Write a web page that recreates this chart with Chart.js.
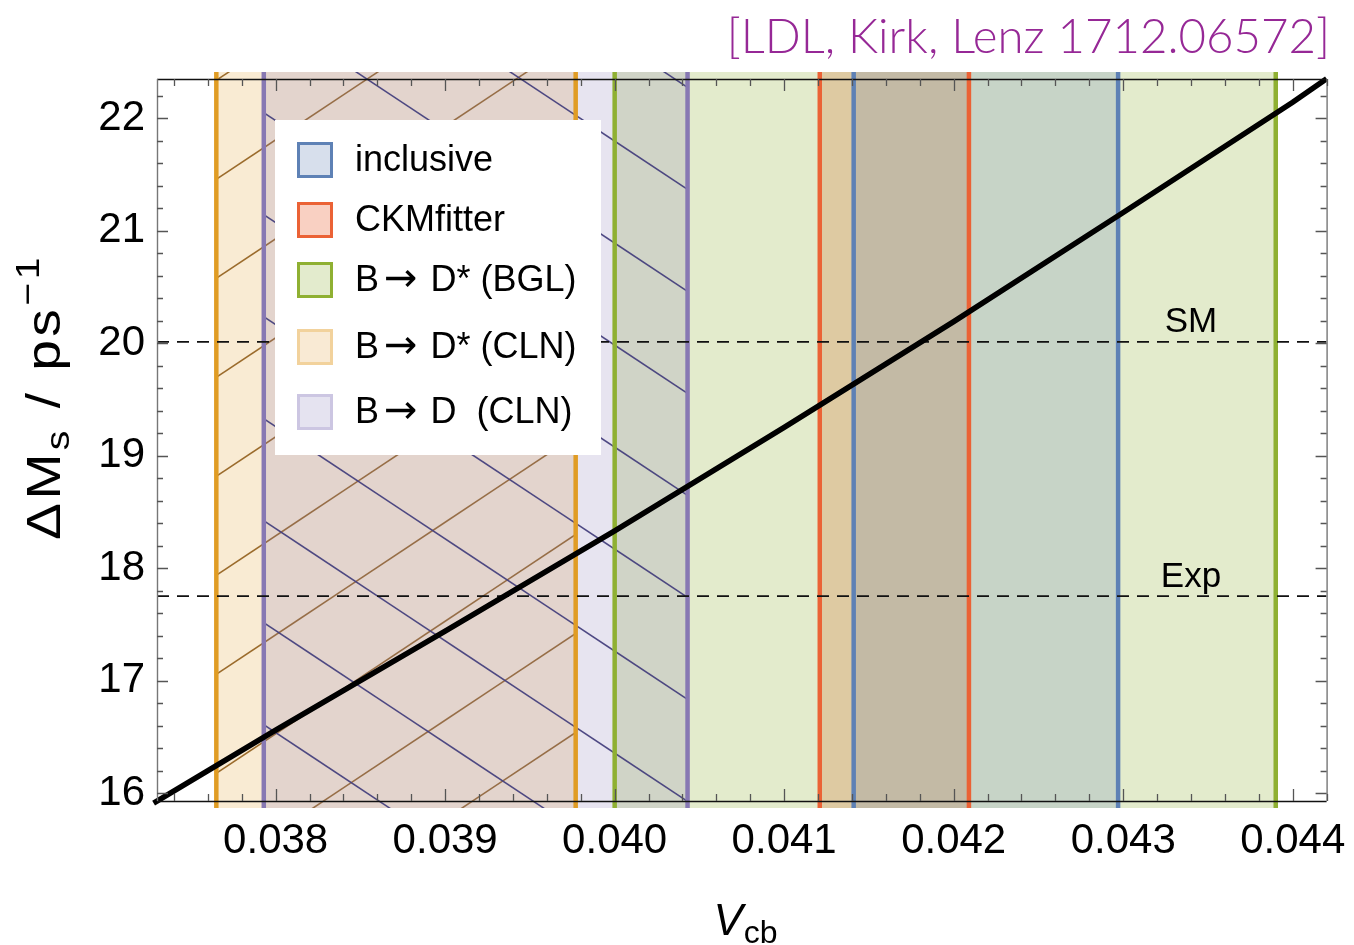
<!DOCTYPE html>
<html>
<head>
<meta charset="utf-8">
<script src="https://cdn.jsdelivr.net/npm/chart.js@4.4.1/dist/chart.umd.min.js"></script>
<style>
  body { margin: 0; background: #fff; }
  #wrap { width: 1354px; height: 945px; }
</style>
</head>
<body>
<div id="wrap"><canvas id="chart" width="1354" height="945"></canvas></div>
<script>
// data
var vcb = [0.03728, 0.0380, 0.0390, 0.0400, 0.0410, 0.0420, 0.0430, 0.0440, 0.04420];
var deltaMs = [15.91, 16.56, 17.44, 18.33, 19.25, 20.19, 21.16, 22.14, 22.35];

var bandNames = ['inclusive', 'CKMfitter', 'B \u2192 D* (BGL)', 'B \u2192 D* (CLN)', 'B \u2192 D  (CLN)'];
var bandLow = [0.04141, 0.04121, 0.04000, 0.03765, 0.03793];
var bandHigh = [0.04297, 0.04209, 0.04390, 0.03977, 0.04043];

var smValue = 20.01;
var expValue = 17.75;

var xTicks = [0.038, 0.039, 0.040, 0.041, 0.042, 0.043, 0.044];
var yTicks = [16, 17, 18, 19, 20, 21, 22];

// axis ranges (frame) and slightly larger drawing area
var xMin = 0.0373, xMax = 0.0442;
var yFrameMin = 15.929, yFrameMax = 22.347;
var yMin = 15.867, yMax = 22.409;

// colours
var bandColors = ['rgb(94,129,181)', 'rgb(235,98,53)', 'rgb(143,176,50)', 'rgb(224,156,36)', 'rgb(135,120,179)'];
var bandFills = ['rgba(94,129,181,0.21)', 'rgba(235,98,53,0.28)', 'rgba(143,176,50,0.25)', 'rgba(224,156,36,0.2)', 'rgba(135,120,179,0.2)'];
var legendFills = ['rgb(215,223,236)', 'rgb(249,208,194)', 'rgb(227,235,205)', 'rgb(249,234,212)', 'rgb(229,227,240)'];
var legendBorders = ['rgb(94,129,181)', 'rgb(235,98,53)', 'rgb(143,176,50)', 'rgb(242,210,156)', 'rgb(204,198,226)'];

var FONT = '"Liberation Sans", Arial, sans-serif';

function hatch(fill, stroke, w, h, rising, phase) {
    var c = document.createElement('canvas');
    c.width = w;
    c.height = h;
    var g = c.getContext('2d');
    g.fillStyle = fill;
    g.fillRect(0, 0, w, h);
    g.strokeStyle = stroke;
    g.lineWidth = 1.5;
    for (var k = -2; k <= 2; k++) {
        var y0 = phase + k * h;
        g.beginPath();
        if (rising) {
            g.moveTo(-w, y0 + h);
            g.lineTo(2 * w, y0 - 2 * h);
        } else {
            g.moveTo(-w, y0 - h);
            g.lineTo(2 * w, y0 + 2 * h);
        }
        g.stroke();
    }
    return g.createPattern(c, 'repeat');
}

// CLN bands are hatched
var bandPatterns = [
    bandFills[0],
    bandFills[1],
    bandFills[2],
    hatch(bandFills[3], 'rgba(150,100,35,0.95)', 149, 99, true, 26),
    hatch(bandFills[4], 'rgba(70,64,125,0.95)', 154, 102, false, 40)
];

var datasets = [];

// filled bands, first one lowest
var fillOrder = [1, 2, 0, 3, 4];
fillOrder.forEach(function (b, i) {
    datasets.push({
        label: bandNames[b],
        data: [{x: bandLow[b], y: yMax}, {x: bandHigh[b], y: yMax}],
        borderWidth: 0,
        borderColor: 'transparent',
        backgroundColor: bandPatterns[b],
        pointRadius: 0,
        fill: 'start',
        order: 100 - i
    });
});

// band edges
for (var b = 0; b < bandNames.length; b++) {
    [bandLow[b], bandHigh[b]].forEach(function (xv) {
        datasets.push({
            label: 'edge',
            data: [{x: xv, y: yMax}, {x: xv, y: yMin}],
            borderColor: bandColors[b],
            borderWidth: 4.5,
            pointRadius: 0,
            fill: false,
            order: 50
        });
    });
}

// SM and Exp dashed lines
[smValue, expValue].forEach(function (v) {
    datasets.push({
        label: 'ref',
        data: [{x: xMin, y: v}, {x: xMax, y: v}],
        borderColor: '#111',
        borderWidth: 1.6,
        borderDash: [12, 8],
        pointRadius: 0,
        fill: false,
        order: 20
    });
});

// Delta Ms vs Vcb
datasets.push({
    label: 'dMs',
    data: vcb.map(function (v, i) { return {x: v, y: deltaMs[i]}; }),
    borderColor: '#000',
    borderWidth: 5.5,
    pointRadius: 0,
    tension: 0,
    fill: false,
    clip: 8,
    order: 1
});

var legendPlugin = {
    id: 'boxLegend',
    afterDatasetsDraw: function (chart) {
        var ctx = chart.ctx;
        var left = chart.chartArea.left + 118, top = chart.chartArea.top + 48;
        var rows = [40, 100, 160, 227, 292];
        ctx.save();
        ctx.fillStyle = '#fff';
        ctx.fillRect(left, top, 326, 335);
        ctx.textBaseline = 'middle';
        for (var i = 0; i < bandNames.length; i++) {
            var cy = top + rows[i];
            ctx.fillStyle = legendFills[i];
            ctx.fillRect(left + 22, cy - 18, 36, 36);
            ctx.strokeStyle = legendBorders[i];
            ctx.lineWidth = 3;
            ctx.strokeRect(left + 23.5, cy - 16.5, 33, 33);
            ctx.fillStyle = '#000';
            // arrow drawn with a font that has a full-size glyph
            var pieces = bandNames[i].split('\u2192');
            var x = left + 80;
            ctx.font = '36px ' + FONT;
            if (pieces.length === 1) {
                ctx.fillText(pieces[0], x, cy + 1);
                continue;
            }
            var head = pieces[0].replace(/\s+$/, '');
            ctx.fillText(head, x, cy + 1);
            x += ctx.measureText(head).width + 5;
            ctx.font = '40px "DejaVu Sans", sans-serif';
            ctx.fillText('\u2192', x, cy + 1);
            x += ctx.measureText('\u2192').width + 3;
            ctx.font = '36px ' + FONT;
            ctx.fillText(pieces[1], x, cy + 1);
        }
        ctx.restore();
    }
};

var framePlugin = {
    id: 'frame',
    afterDraw: function (chart) {
        var ctx = chart.ctx;
        var xs = chart.scales.x, ys = chart.scales.y;
        var L = xs.getPixelForValue(xMin), R = xs.getPixelForValue(xMax);
        var T = ys.getPixelForValue(yFrameMax), B = ys.getPixelForValue(yFrameMin);
        ctx.save();
        ctx.lineWidth = 1.4;
        ctx.strokeStyle = '#111';
        ctx.beginPath();
        ctx.moveTo(L, T + 0.5); ctx.lineTo(R, T + 0.5);
        ctx.moveTo(L, B + 0.5); ctx.lineTo(R, B + 0.5);
        ctx.stroke();
        ctx.strokeStyle = '#777';
        ctx.beginPath();
        ctx.moveTo(L + 0.5, T); ctx.lineTo(L + 0.5, B);
        ctx.moveTo(R + 0.5, T); ctx.lineTo(R + 0.5, B);
        ctx.stroke();

        // ticks pointing inward on all four sides
        ctx.strokeStyle = '#555';
        ctx.lineWidth = 1.3;
        ctx.beginPath();
        var i, v, p, len;
        for (i = 0; ; i++) {
            v = 0.0374 + i * 0.0002;
            if (v > xMax + 1e-9) break;
            p = Math.round(xs.getPixelForValue(v)) + 0.5;
            len = Math.abs(Math.round(v * 10000) % 10) === 0 ? 12 : 7;
            ctx.moveTo(p, B); ctx.lineTo(p, B - len);
            ctx.moveTo(p, T); ctx.lineTo(p, T + len);
        }
        for (i = 0; ; i++) {
            v = 16 + i * 0.2;
            if (v > yFrameMax) break;
            p = Math.round(ys.getPixelForValue(v)) + 0.5;
            len = Math.abs(v - Math.round(v)) < 1e-6 ? 11 : 6;
            ctx.moveTo(L, p); ctx.lineTo(L + len, p);
            ctx.moveTo(R, p); ctx.lineTo(R - len, p);
        }
        ctx.stroke();

        // SM / Exp labels
        ctx.fillStyle = '#000';
        ctx.font = '35px ' + FONT;
        ctx.textAlign = 'center';
        ctx.textBaseline = 'alphabetic';
        var lx = xs.getPixelForValue(0.04340);
        ctx.fillText('SM', lx, ys.getPixelForValue(smValue) - 10);
        ctx.fillText('Exp', lx, ys.getPixelForValue(expValue) - 9);

        // x title: V_cb
        ctx.textAlign = 'left';
        ctx.font = 'italic 44px ' + FONT;
        var wV = ctx.measureText('V').width;
        ctx.font = '32px ' + FONT;
        var wSub = ctx.measureText('cb').width;
        var x0 = 745 - (wV + wSub) / 2;
        ctx.font = 'italic 44px ' + FONT;
        ctx.fillText('V', x0, 935);
        ctx.font = '32px ' + FONT;
        ctx.fillText('cb', x0 + wV + 1, 943);

        // y title: Delta M_s / ps^-1 (wide lettering as in the original)
        ctx.letterSpacing = '3px';
        var parts = [['\u0394M', '48px ' + FONT, 0], ['s', '34px ' + FONT, 9],
                     [' / ps', '48px ' + FONT, 0], ['\u22121', '34px ' + FONT, -21]];
        var total = 0;
        parts.forEach(function (q) { ctx.font = q[1]; q.push(ctx.measureText(q[0]).width); total += q[3]; });
        ctx.translate(60, 397);
        ctx.rotate(-Math.PI / 2);
        ctx.scale(1.15, 1);
        var xx = -total / 2;
        parts.forEach(function (q) {
            ctx.font = q[1];
            ctx.fillText(q[0], xx, q[2]);
            xx += q[3];
        });
        ctx.restore();

        // reference tag
        ctx.save();
        var tag = '[LDL, Kirk, Lenz 1712.06572]';
        ctx.font = '300 50px Lato, sans-serif';
        var size = 50 * 603 / ctx.measureText(tag).width;
        ctx.font = '300 ' + size.toFixed(1) + 'px Lato, sans-serif';
        ctx.fillStyle = 'rgb(150,40,150)';
        ctx.textAlign = 'right';
        ctx.fillText(tag, 1330, 53);
        ctx.restore();
    }
};

new Chart(document.getElementById('chart').getContext('2d'), {
    type: 'line',
    data: {datasets: datasets},
    options: {
        responsive: false,
        animation: false,
        devicePixelRatio: 1,
        layout: {padding: {left: 0, right: 26, top: 72, bottom: 0}},
        plugins: {legend: {display: false}, tooltip: {enabled: false}},
        scales: {
            x: {
                type: 'linear',
                min: xMin,
                max: xMax,
                afterFit: function (s) { s.height = 137; },
                afterBuildTicks: function (s) { s.ticks = xTicks.map(function (v) { return {value: v}; }); },
                grid: {display: false, drawTicks: false},
                border: {display: false},
                ticks: {
                    padding: 8,
                    color: '#000',
                    autoSkip: false,
                    maxRotation: 0,
                    font: {family: FONT, size: 42},
                    callback: function (v) { return v.toFixed(3); }
                }
            },
            y: {
                type: 'linear',
                min: yMin,
                max: yMax,
                afterFit: function (s) { s.width = 157; },
                afterBuildTicks: function (s) { s.ticks = yTicks.map(function (v) { return {value: v}; }); },
                grid: {display: false, drawTicks: false},
                border: {display: false},
                ticks: {
                    padding: 12,
                    color: '#000',
                    font: {family: FONT, size: 42},
                    callback: function (v) { return String(v); }
                }
            }
        }
    },
    plugins: [legendPlugin, framePlugin]
});
</script>
</body>
</html>
